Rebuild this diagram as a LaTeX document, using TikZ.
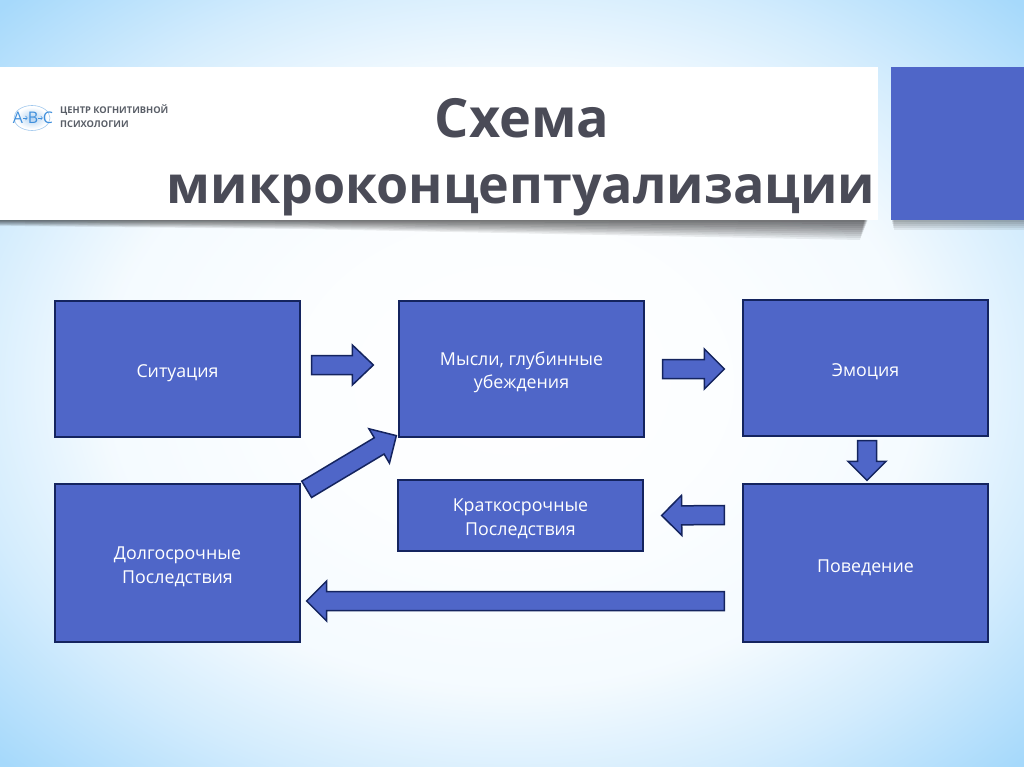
\documentclass[tikz,border=0pt]{standalone}
\usepackage{fontspec}
\setmainfont{Open Sans}
\usetikzlibrary{calc}

\definecolor{boxblue}{HTML}{4F66C8}
\definecolor{boxline}{HTML}{14245F}
\definecolor{skyblue}{HTML}{A6D9FB}
\definecolor{skymid}{HTML}{D3ECFD}
\definecolor{titlegray}{HTML}{4A4B57}
\definecolor{logoblue}{HTML}{3F8FDC}
\definecolor{logogray}{HTML}{5A5F68}

\pgfdeclareradialshading{slideback}{\pgfpoint{0bp}{0bp}}{%
  color(0bp)=(white); color(11bp)=(white!96!skyblue); color(20bp)=(white!88!skyblue);
  color(27bp)=(skymid); color(35bp)=(skyblue); color(50bp)=(skyblue)}

\tikzset{
  flowbox/.style={draw=boxline,fill=boxblue,line width=1.3pt,minimum width=245pt,inner sep=0pt},
  flowtext/.style={text=white,align=center,font=\fontsize{17.8}{23.5}\selectfont,inner sep=0pt},
  arrowline/.style={draw=boxline,fill=boxblue,line width=1.5pt,line join=miter},
  titletext/.style={text=titlegray,inner sep=0pt},
  logotext/.style={text=logogray,font=\fontsize{9.3}{14}\selectfont\bfseries,align=left,inner sep=0pt},
  logoletter/.style={text=logoblue,font=\fontsize{16}{16}\selectfont,inner sep=0pt}
}

% block arrow: from, to, half shaft, half head, head length
\newcommand{\blockarrow}[5]{%
  \coordinate (tail) at #1;
  \coordinate (tip) at #2;
  \coordinate (neck) at ($(tip)!#5!(tail)$);
  \draw[arrowline] ($(tail)!#3!90:(tip)$) -- ($(neck)!#3!90:(tip)$) -- ($(neck)!#4!90:(tip)$)
    -- (tip) -- ($(neck)!#4!-90:(tip)$) -- ($(neck)!#3!-90:(tip)$) -- ($(tail)!#3!-90:(tip)$) -- cycle;
}

\begin{document}
\begin{tikzpicture}[x=1pt,y=-1pt]
\useasboundingbox (0,0) rectangle (1024,767);

% background
\path[shading=slideback] (0,0) rectangle (1024,767);

% title band with shadow
\foreach \d in {2,4,...,20}
  \fill[black,opacity=0.07] (0,220) -- (868-0.2*\d,220) -- (868-0.4*\d,220+\d) -- (300,220+0.45*\d) -- (0,220+0.3*\d) -- cycle;
\foreach \d in {2,4,...,10}
  \fill[black,opacity=0.07] (891+0.3*\d,220) rectangle (1024,220+\d);
\fill[white] (0,67) rectangle (878,220);
\fill[boxblue] (891,67) rectangle (1024,220);

% logo
\shade[inner color=logoblue!40,outer color=white] (32,118) ellipse (16 and 11);
\draw[logoblue!50,line width=0.6pt] (32,118) ellipse (18 and 12.5);
\node[logoletter] (letterA) at (18,118) {A};
\node[logoletter] (letterB) at (33,118) {B};
\node[logoletter] (letterC) at (48,118) {C};
\draw[->,logoblue,line width=0.6pt] (letterA) -- (letterB);
\draw[->,logoblue,line width=0.6pt] (letterB) -- (letterC);
\node[logotext,anchor=west] (logoname) at (60,116) {ЦЕНТР КОГНИТИВНОЙ\\ПСИХОЛОГИИ};

% title
\node[titletext,font=\fontsize{54}{60}\selectfont\bfseries] (titleone) at (522,118) {Схема};
\node[titletext,font=\fontsize{52}{60}\selectfont\bfseries] (titletwo) at (521,195) {микроконцептуализации};

% boxes
\node[flowbox,minimum height=136pt] (situation) at (177.5,369) {};
\node[flowbox,minimum height=136pt] (thoughts) at (521.5,369) {};
\node[flowbox,minimum height=136pt] (emotion) at (865.5,368) {};
\node[flowbox,minimum height=158pt] (longterm) at (177.5,563) {};
\node[flowbox,minimum height=71pt] (shortterm) at (520.5,515.5) {};
\node[flowbox,minimum height=158pt] (behaviour) at (865.5,563) {};

% box texts
\node[flowtext] (situationtext) at ($(situation)+(0,4)$) {Ситуация};
\node[flowtext] (thoughtstext) at ($(thoughts)+(0,3.5)$) {Мысли, глубинные\\убеждения};
\node[flowtext] (emotiontext) at ($(emotion)+(0,3.5)$) {Эмоция};
\node[flowtext] (longtermtext) at ($(longterm)+(0,4)$) {Долгосрочные\\Последствия};
\node[flowtext] (shorttermtext) at ($(shortterm)+(0,3.5)$) {Краткосрочные\\Последствия};
\node[flowtext] (behaviourtext) at ($(behaviour)+(0,5)$) {Поведение};

% arrows
\blockarrow{($(situation.east)+(11,-4)$)}{($(thoughts.west)+(-25,-4)$)}{9.5pt}{20pt}{21pt}
\blockarrow{($(thoughts.east)+(18,0)$)}{($(emotion.west)+(-18,1)$)}{9.5pt}{20pt}{20pt}
\blockarrow{($(emotion.south)+(1.5,4)$)}{($(behaviour.north)+(1.5,-3)$)}{9.5pt}{19pt}{19pt}
\blockarrow{($(behaviour.west)+(-18,-48)$)}{($(shortterm.east)+(18,0)$)}{9.5pt}{20pt}{20pt}
\blockarrow{($(behaviour.west)+(-18,38)$)}{($(longterm.east)+(6,38)$)}{9.5pt}{20pt}{20pt}
\blockarrow{($(longterm.north east)+(6,6)$)}{($(thoughts.south west)+(-2,-2)$)}{9.5pt}{20pt}{20pt}
\end{tikzpicture}
\end{document}
